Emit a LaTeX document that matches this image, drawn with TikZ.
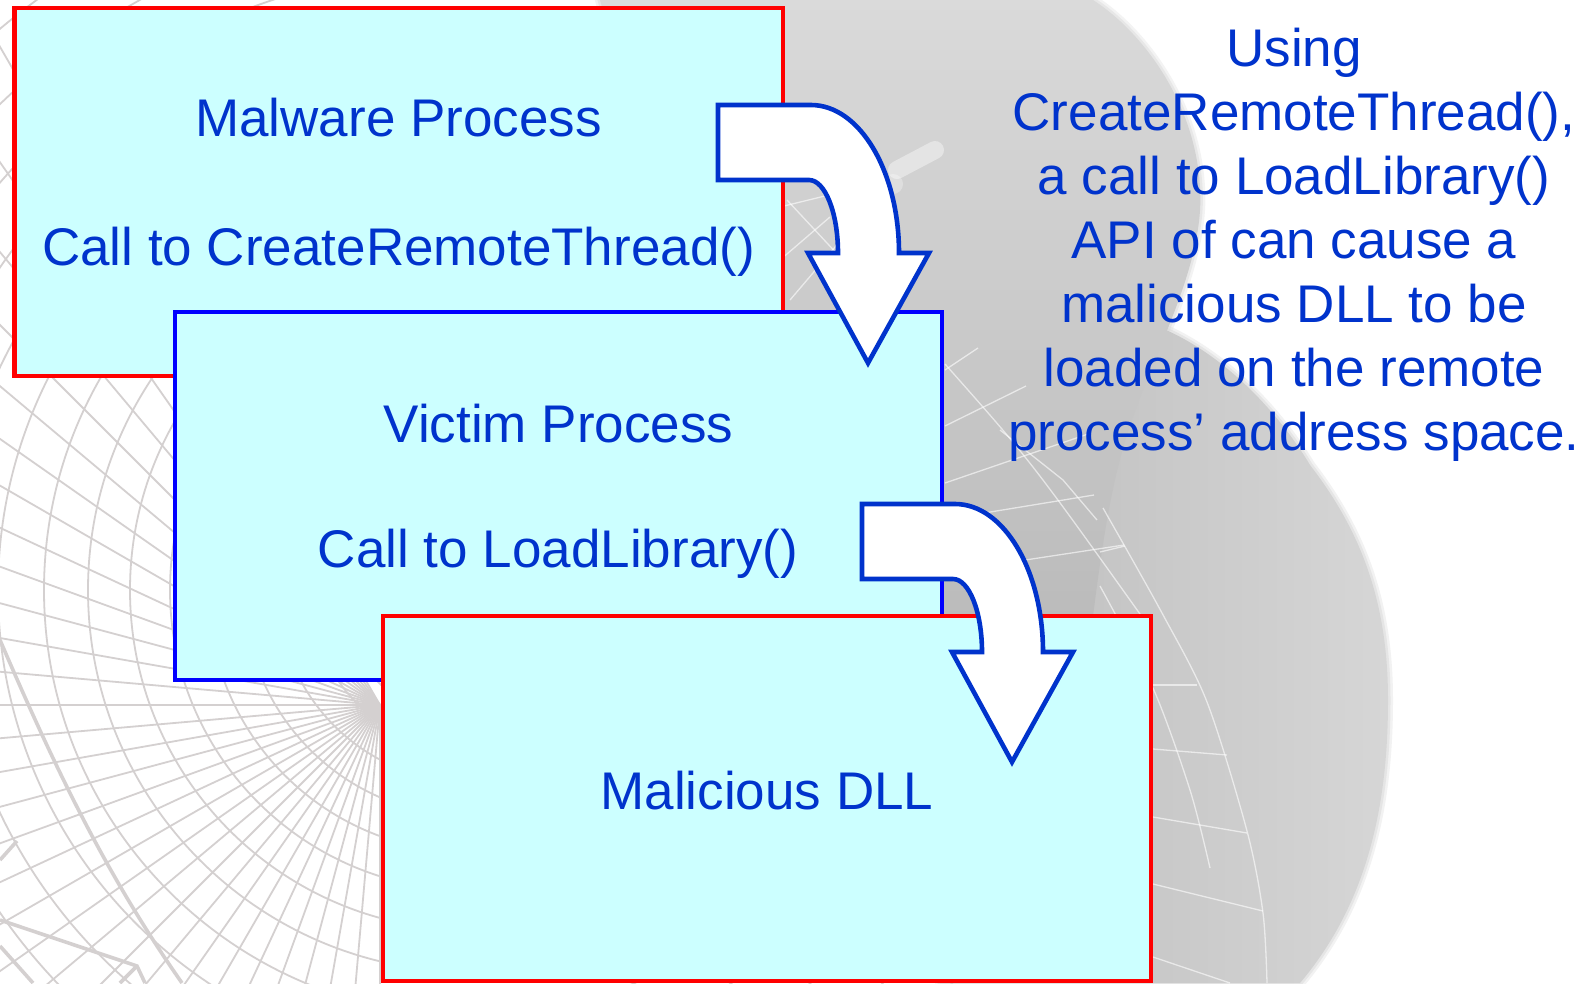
\documentclass[tikz,border=0pt]{standalone}
\usepackage{fontspec}
\setmainfont{Liberation Sans}
\definecolor{boxfill}{RGB}{204,255,255}
\definecolor{txtblue}{RGB}{0,51,204}
\definecolor{gridgray}{RGB}{212,208,208}
\definecolor{bulbtop}{RGB}{218,218,218}
\definecolor{bulbbot}{RGB}{186,186,186}
\definecolor{lowleft}{RGB}{188,188,188}
\definecolor{lowright}{RGB}{214,214,214}

% outlines of the grey backdrop figure
\def\upperbulb{(600,0) -- (1093,0) .. controls (1140,30) and (1195,100) .. (1200,187) .. controls (1205,260) and (1160,340) .. (1133,417) .. controls (1110,480) and (1100,560) .. (1090,640) -- (780,640) -- cycle}
\def\lowerbulb{(1140,320) .. controls (1220,345) and (1280,415) .. (1310,465) .. controls (1360,530) and (1388,600) .. (1388,700) .. controls (1388,800) and (1370,900) .. (1300,983) -- (940,983) -- (940,320) -- cycle}

\begin{document}
\begin{tikzpicture}[x=1pt,y=-1pt,
  procbox/.style={draw, line width=4.4pt, fill=boxfill, minimum width=768pt,
    minimum height=368pt, inner sep=0pt},
  txt/.style={text=txtblue, font=\fontsize{53}{64}\selectfont, inner sep=0pt},
  arrowshape/.style={draw=txtblue, fill=white, line width=4.6pt, line join=miter},
  gridline/.style={draw=gridgray, line width=1.8pt},
  heavyline/.style={draw=gridgray, line width=3.6pt},
  meshline/.style={draw=white, line width=1.3pt, draw opacity=0.6},
  bentarrow/.pic={
    \draw[arrowshape] (0,0) -- (93,0)
      .. controls (141.6,0) and (181,66.3) .. (181,148)
      -- (211,148) -- (150,258) -- (90,148) -- (120,148)
      .. controls (120,107.7) and (107,75) .. (91,75)
      -- (0,75) -- cycle;
  }
]
\useasboundingbox (0,0) rectangle (1588,983);
\clip (0,0) rectangle (1588,983);
\fill[white] (0,0) rectangle (1588,983);

% perspective wire grid on the left
\begin{scope}
  \clip (0,0) rectangle (1000,983);
  \foreach \a in {90,95,...,240}
    \draw[gridline] (380,705) -- ++(\a:1300);
  \foreach \r in {130,160,192,226,262,300,340,382,426,472,520,570,622,676,732,790,850}
    \draw[gridline] (470,590) circle[radius=\r];
  \draw[heavyline] (0,640) .. controls (60,780) and (110,880) .. (182,983);
  \draw[heavyline] (0,920) -- (137,966) -- (145,983);
  \draw[heavyline] (120,983) -- (137,966);
  \draw[heavyline] (0,946) -- (33,983);
  \draw[heavyline] (0,860) -- (17,841);
\end{scope}

% grey figure behind the diagram
\draw[line width=10pt, draw=lowright, draw opacity=0.3] \lowerbulb;
\draw[line width=5pt, draw=lowright, draw opacity=0.45] \lowerbulb;
\shade[left color=lowleft, right color=lowright] \lowerbulb;
\begin{scope}
  \clip (0,0) rectangle (1588,330);
  \draw[line width=10pt, draw=bulbtop, draw opacity=0.3] \upperbulb;
  \draw[line width=5pt, draw=bulbtop, draw opacity=0.45] \upperbulb;
\end{scope}
\shade[top color=bulbtop, bottom color=bulbbot] \upperbulb;

% light mesh over the figure
\draw[line width=18pt, line cap=round, draw=white, draw opacity=0.4] (897,170) -- (935,150);
\fill[white, fill opacity=0.3] (893,184) circle[radius=10];
\draw[meshline] (780,207) -- (890,180);
\draw[meshline] (787,200) -- (880,300);
\draw[meshline] (780,260) -- (830,217);
\draw[meshline] (790,300) -- (847,233);
\draw[meshline] (945,370) -- (978,348);
\draw[meshline] (945,426) -- (1026,386);
\draw[meshline] (945,483) -- (1091,433);
\draw[meshline] (978,514) -- (1094,495);
\draw[meshline] (999,564) -- (1124,545);
\draw[meshline] (945,364) .. controls (1030,460) .. (1140,614);
\draw[meshline] (1000,430) -- (1063,480) -- (1097,520);
\draw[meshline] plot[smooth] coordinates {(1103,508) (1162,613) (1207,702) (1247,831) (1263,913) (1267,983)};
\draw[meshline] plot[smooth] coordinates {(1100,586) (1153,688) (1190,790) (1210,868)};
\draw[meshline] (1100,552) -- (1125,546);
\draw[meshline] (1153,685) -- (1197,685);
\draw[meshline] (1153,749) -- (1227,755);
\draw[meshline] (1153,817) -- (1247,833);
\draw[meshline] (1153,884) -- (1263,911);
\draw[meshline] (1153,957) -- (1230,983);

% process boxes
\node[procbox, draw=red, minimum width=768.5pt] (malware) at (398.75,192) {};
\node[txt, anchor=base] (malwaretitle) at (398.5,136.7) {Malware Process};
\node[txt, anchor=base] (malwarecall) at (398.5,265) {Call to CreateRemoteThread()};

\node[procbox, draw=blue, minimum width=767pt] (victim) at (558.5,496) {};
\node[txt, anchor=base] (victimtitle) at (558.5,442) {Victim Process};
\node[txt, anchor=base] (victimcall) at (558,567) {Call to LoadLibrary()};

\coordinate (arrowone) at (718,105);
\pic at (arrowone) {bentarrow};

\node[procbox, draw=red, minimum height=365pt] (dll) at (767,798.5) {};
\node[txt, anchor=base] (dlltitle) at (767,809) {Malicious DLL};

\coordinate (arrowtwo) at (862,504);
\pic at (arrowtwo) {bentarrow};

% explanation on the right
\node[txt, anchor=north, align=center] (explain) at (1294,28)
  {Using\\CreateRemoteThread(),\\a call to LoadLibrary()\\API of can cause a\\malicious DLL to be\\loaded on the remote\\process’ address space.};
\end{tikzpicture}
\end{document}
